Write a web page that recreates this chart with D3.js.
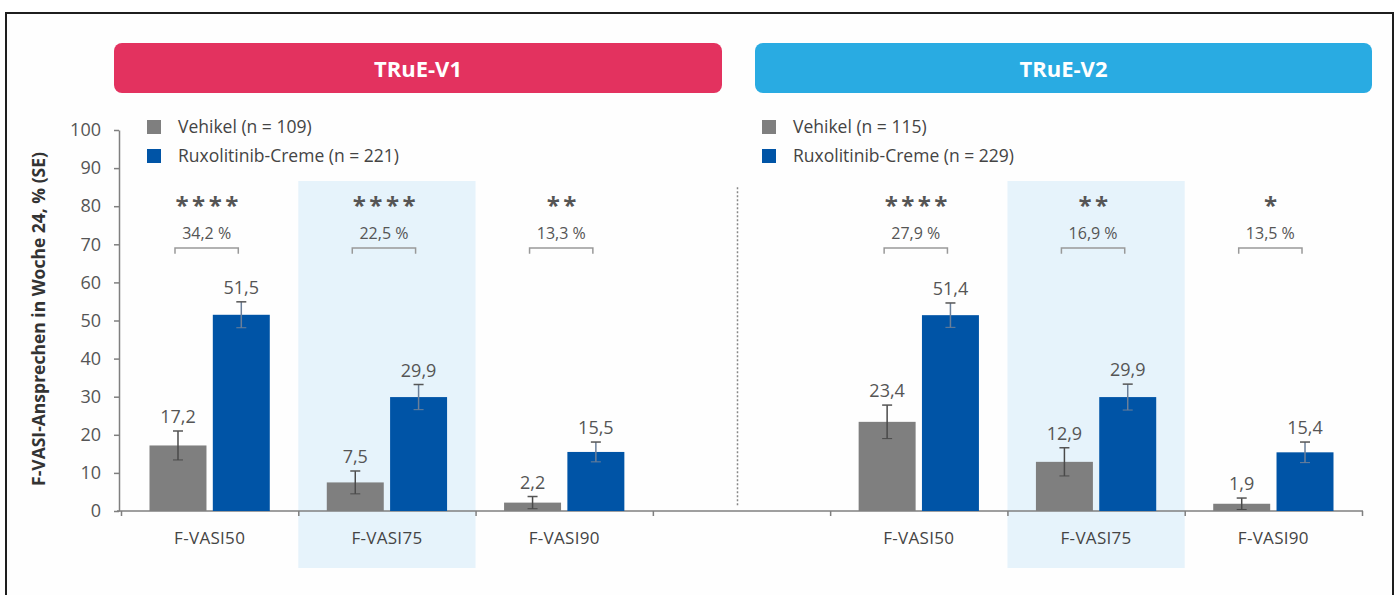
<!DOCTYPE html>
<html>
<head>
<meta charset="utf-8">
<script src="https://cdn.jsdelivr.net/npm/d3@7"></script>
<style>
  html, body { margin: 0; padding: 0; background: #fff; }
  svg { display: block; font-family: "Open Sans", "Noto Sans", sans-serif; }
</style>
</head>
<body>
<svg id="chart" width="1400" height="595"></svg>
<script>
// Daten
const studies = ["TRuE-V1", "TRuE-V2"];
const endpoints = ["F-VASI50", "F-VASI75", "F-VASI90"];
const seriesNames = ["Vehikel", "Ruxolitinib-Creme"];

const v1N = [109, 221];
const v1Vehikel = [17.2, 7.5, 2.2];
const v1VehikelSE = [3.8, 3.0, 1.6];
const v1Rux = [51.5, 29.9, 15.5];
const v1RuxSE = [3.4, 3.3, 2.6];
const v1Diff = ["34,2 %", "22,5 %", "13,3 %"];
const v1Stars = ["****", "****", "**"];

const v2N = [115, 229];
const v2Vehikel = [23.4, 12.9, 1.9];
const v2VehikelSE = [4.4, 3.7, 1.5];
const v2Rux = [51.4, 29.9, 15.4];
const v2RuxSE = [3.2, 3.4, 2.7];
const v2Diff = ["27,9 %", "16,9 %", "13,5 %"];
const v2Stars = ["****", "**", "*"];

const yTicks = [0, 10, 20, 30, 40, 50, 60, 70, 80, 90, 100];

const svg = d3.select("#chart");
const colors = { Vehikel: "#7f7f7f", "Ruxolitinib-Creme": "#0054a6" };
const textColor = "#555";
const de = d3.formatLocale({ decimal: ",", thousands: ".", grouping: [3], currency: ["", "€"] });
const fmt = de.format(".1f");

// Slots: 3 Endpunkte je Studie, eine Lücke dazwischen
const slots = ["V1|0", "V1|1", "V1|2", "gap", "V2|0", "V2|1", "V2|2"];

const groups = [];
[[v1Vehikel, v1VehikelSE, v1Rux, v1RuxSE, v1Diff, v1Stars, "V1"],
 [v2Vehikel, v2VehikelSE, v2Rux, v2RuxSE, v2Diff, v2Stars, "V2"]].forEach(([veh, vehSE, rux, ruxSE, diff, stars, s]) => {
  endpoints.forEach((ep, i) => {
    groups.push({
      slot: s + "|" + i,
      endpoint: ep,
      diff: diff[i],
      stars: stars[i],
      bars: [
        { series: "Vehikel", value: veh[i], se: vehSE[i] },
        { series: "Ruxolitinib-Creme", value: rux[i], se: ruxSE[i] },
      ],
    });
  });
});

// Skalen
const x = d3.scaleBand().domain(slots).range([121, 1362]).padding(0);
const bw = x.bandwidth();
const xInner = d3.scaleBand().domain(seriesNames).range([28.5, bw - 28.5]).paddingInner(0.1);
const y = d3.scaleLinear().domain([0, 100]).range([511, 130]);

// Rahmen
svg.append("rect")
  .attr("x", 6).attr("y", 13)
  .attr("width", 1387).attr("height", 640)
  .attr("fill", "#fefefe")
  .attr("stroke", "#1e1e1e")
  .attr("stroke-width", 2);

// Hinterlegung F-VASI75
svg.selectAll("rect.hilite")
  .data(groups.filter((g) => g.endpoint === "F-VASI75"))
  .enter()
  .append("rect")
  .attr("class", "hilite")
  .attr("x", (d) => x(d.slot))
  .attr("y", 181)
  .attr("width", bw)
  .attr("height", 387)
  .attr("fill", "#e6f3fb");

// Kopfzeilen
const headers = [
  { name: studies[0], x0: 114, x1: 722, fill: "#e3325f" },
  { name: studies[1], x0: 755, x1: 1372, fill: "#29abe2" },
];
headers.forEach((h) => {
  svg.append("rect")
    .attr("x", h.x0).attr("y", 43)
    .attr("width", h.x1 - h.x0).attr("height", 50)
    .attr("rx", 8).attr("ry", 8)
    .attr("fill", h.fill);
  svg.append("text")
    .attr("x", (h.x0 + h.x1) / 2)
    .attr("y", 77)
    .attr("text-anchor", "middle")
    .attr("fill", "#fff")
    .style("font-size", "22px")
    .style("font-weight", 700)
    .text(h.name);
});

// Legenden
[[147, v1N], [762, v2N]].forEach(([lx, n]) => {
  seriesNames.forEach((s, i) => {
    const row = svg.append("g").attr("transform", `translate(${lx}, ${120 + i * 29})`);
    row.append("rect").attr("width", 14).attr("height", 14).attr("fill", colors[s]);
    row.append("text")
      .attr("x", 31).attr("y", 13)
      .attr("fill", "#444")
      .style("font-size", "17.5px")
      .text(`${s} (n = ${n[i]})`);
  });
});

// Trennlinie
svg.append("line")
  .attr("x1", x("gap") + bw / 2 - 4).attr("x2", x("gap") + bw / 2 - 4)
  .attr("y1", y(85)).attr("y2", y(1))
  .attr("stroke", "#888")
  .attr("stroke-width", 1.5)
  .attr("stroke-dasharray", "2,2");

// Y-Achse
const yAxis = svg.append("g")
  .attr("transform", "translate(119,0)")
  .call(d3.axisLeft(y).tickValues(yTicks).tickSize(5).tickPadding(13).tickSizeOuter(0));
yAxis.select(".domain").attr("stroke", "#7f7f7f").attr("stroke-width", 1.5);
yAxis.selectAll(".tick line").attr("stroke", "#7f7f7f").attr("stroke-width", 1.5);
yAxis.selectAll(".tick text")
  .attr("fill", textColor)
  .style("font-size", "18px")
  .style("font-family", "'Open Sans', sans-serif");

svg.append("text")
  .attr("transform", "translate(45, 319) rotate(-90)")
  .attr("text-anchor", "middle")
  .attr("fill", "#333")
  .style("font-size", "17.5px")
  .style("font-weight", 700)
  .text("F-VASI-Ansprechen in Woche 24, % (SE)");

// X-Achse
const xEdges = d3.scaleLinear().domain([0, slots.length]).range(x.range());
const xAxis = svg.append("g")
  .attr("transform", `translate(0, ${y(0)})`)
  .call(d3.axisBottom(xEdges).tickValues(d3.range(0, slots.length + 1)).tickFormat("").tickSize(5).tickSizeOuter(0));
xAxis.select(".domain").attr("stroke", "#7f7f7f").attr("stroke-width", 1.5).attr("d", `M117,0H${x.range()[1] + 1}`);
xAxis.selectAll(".tick line").attr("stroke", "#7f7f7f").attr("stroke-width", 1.5);

svg.selectAll("text.cat")
  .data(groups)
  .enter()
  .append("text")
  .attr("class", "cat")
  .attr("x", (d) => x(d.slot) + bw / 2)
  .attr("y", 544)
  .attr("text-anchor", "middle")
  .attr("fill", "#444")
  .style("font-size", "17px")
  .style("letter-spacing", "0.3px")
  .text((d) => d.endpoint);

// Balken
const gGroup = svg.selectAll("g.group")
  .data(groups)
  .enter()
  .append("g")
  .attr("class", "group")
  .attr("transform", (d) => `translate(${x(d.slot)}, 0)`);

const bar = gGroup.selectAll("g.bar")
  .data((d) => d.bars)
  .enter()
  .append("g")
  .attr("class", "bar");

bar.append("rect")
  .attr("x", (d) => xInner(d.series))
  .attr("y", (d) => y(d.value))
  .attr("width", xInner.bandwidth())
  .attr("height", (d) => y(0) - y(d.value))
  .attr("fill", (d) => colors[d.series]);

// Fehlerbalken
const cx = (d) => xInner(d.series) + xInner.bandwidth() / 2;
bar.append("line")
  .attr("x1", cx).attr("x2", cx)
  .attr("y1", (d) => y(d.value + d.se))
  .attr("y2", (d) => y(Math.max(0, d.value - d.se)))
  .attr("stroke", (d) => (d.series === "Vehikel" ? "#4a4a4a" : "#6b7f99"))
  .attr("stroke-width", 1.5);
bar.append("line")
  .attr("x1", (d) => cx(d) - 5).attr("x2", (d) => cx(d) + 5)
  .attr("y1", (d) => y(d.value + d.se))
  .attr("y2", (d) => y(d.value + d.se))
  .attr("stroke", "#555")
  .attr("stroke-width", 1.5);
bar.append("line")
  .attr("x1", (d) => cx(d) - 5).attr("x2", (d) => cx(d) + 5)
  .attr("y1", (d) => y(Math.max(0, d.value - d.se)))
  .attr("y2", (d) => y(Math.max(0, d.value - d.se)))
  .attr("stroke", (d) => (d.series === "Vehikel" ? "#4a4a4a" : "#6b7f99"))
  .attr("stroke-width", 1);

// Werte
bar.append("text")
  .attr("x", cx)
  .attr("y", (d) => y(d.value + d.se) - 8)
  .attr("text-anchor", "middle")
  .attr("fill", textColor)
  .style("font-size", "18px")
  .text((d) => fmt(d.value));

// Signifikanz: Klammer, Differenz, Sterne
const c0 = xInner(seriesNames[0]) + xInner.bandwidth() / 2;
const c1 = xInner(seriesNames[1]) + xInner.bandwidth() / 2;
gGroup.append("path")
  .attr("d", `M${c0 - 3},${y(67.5)}V${y(69)}H${c1 - 3}V${y(67.5)}`)
  .attr("fill", "none")
  .attr("stroke", "#999")
  .attr("stroke-width", 1.5);

gGroup.append("text")
  .attr("x", (c0 + c1) / 2 - 3)
  .attr("y", y(71.5))
  .attr("text-anchor", "middle")
  .attr("fill", textColor)
  .style("font-size", "16px")
  .text((d) => d.diff);

gGroup.append("text")
  .attr("x", (c0 + c1) / 2 - 1)
  .attr("y", y(77.9))
  .attr("text-anchor", "middle")
  .attr("fill", "#555")
  .style("font-size", "24px")
  .style("font-weight", 700)
  .style("letter-spacing", "3.5px")
  .text((d) => d.stars);
</script>
</body>
</html>
